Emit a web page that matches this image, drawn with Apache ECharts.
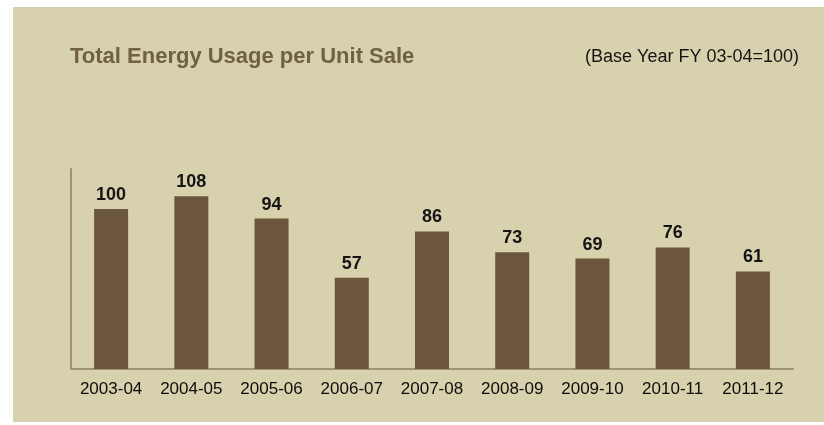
<!DOCTYPE html>
<html>
<head>
<meta charset="utf-8">
<script src="https://cdn.jsdelivr.net/npm/echarts@6/dist/echarts.min.js"></script>
<style>
  html, body { margin: 0; padding: 0; background: #fff; }
  .panel {
    position: absolute;
    left: 13px; top: 7px;
    width: 811px; height: 415px;
    background: #d8d1ad;
  }
  #chart { position: absolute; left: 0; top: 0; width: 824px; height: 425px; }
</style>
</head>
<body>
<div class="panel"></div>
<div id="chart"></div>
<script>
const years = ['2003-04', '2004-05', '2005-06', '2006-07', '2007-08', '2008-09', '2009-10', '2010-11', '2011-12']
const usage = [100, 108, 94, 57, 86, 73, 69, 76, 61]

const chart = echarts.init(document.getElementById('chart'))
chart.setOption({
  backgroundColor: 'transparent',
  title: [
    {
      text: 'Total Energy Usage per Unit Sale',
      left: 65,
      top: 41,
      textStyle: { color: '#6f6046', fontSize: 22, fontWeight: 'bold', fontFamily: 'Liberation Sans, Arial' },
    },
    {
      text: '(Base Year FY 03-04=100)',
      right: 20,
      top: 43,
      textStyle: { color: '#151515', fontSize: 18, fontWeight: 'normal', fontFamily: 'Liberation Sans, Arial' },
    },
  ],
  grid: { left: 71, right: 31, top: 169, bottom: 56 },
  xAxis: {
    type: 'category',
    data: years,
    axisLine: { show: true, lineStyle: { color: '#9d9473', width: 2 } },
    axisTick: { show: false },
    axisLabel: {
      interval: 0,
      color: '#0d0d0d',
      fontSize: 17,
      fontFamily: 'Liberation Sans, Arial',
      margin: 12,
    },
  },
  yAxis: {
    type: 'value',
    min: 0,
    max: 125,
    splitLine: { show: false },
    axisLine: { show: true, lineStyle: { color: '#9d9473', width: 2 } },
    axisTick: { show: false },
    axisLabel: { show: false },
  },
  series: [
    {
      type: 'bar',
      data: usage,
      barWidth: 34,
      itemStyle: { color: '#6c553d' },
      label: {
        show: true,
        position: 'top',
        distance: 5,
        color: '#151515',
        fontSize: 18,
        fontWeight: 'bold',
        fontFamily: 'Liberation Sans, Arial',
      },
    },
  ],
})
</script>
</body>
</html>
